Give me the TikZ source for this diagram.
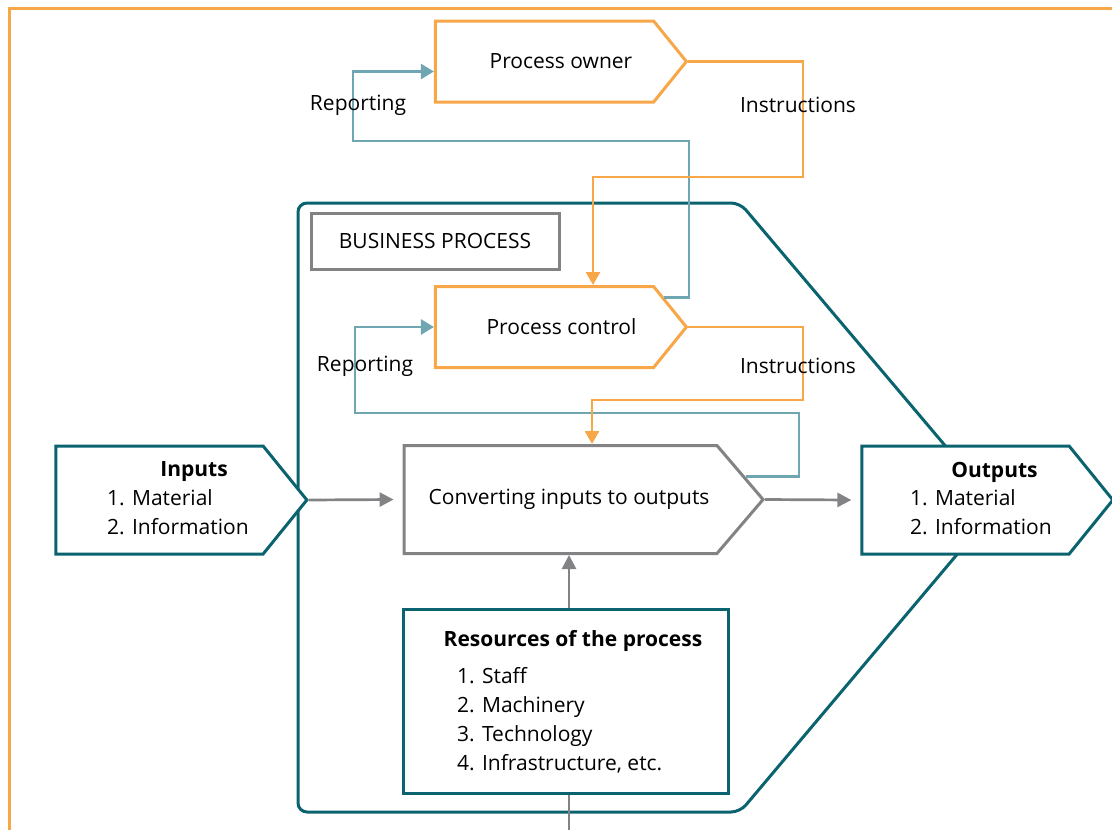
\documentclass[tikz,border=0pt]{standalone}
\usepackage{fontspec}
\setmainfont{Open Sans}
\usetikzlibrary{shapes.symbols,arrows.meta}

\definecolor{ctrlorange}{RGB}{247,166,72}
\definecolor{procteal}{RGB}{10,99,111}
\definecolor{reportteal}{RGB}{112,165,178}
\definecolor{flowgrey}{RGB}{131,131,134}

\tikzset{
  signalbox/.style={signal, signal to=east, signal pointer angle=102,
    fill=white, line width=3pt, inner sep=0pt},
  ctrlbox/.style={signalbox, draw=ctrlorange, minimum width=251pt, minimum height=81pt},
  title/.style={font=\fontsize{21}{29}\selectfont\bfseries},
  itemlist/.style={align=left, inner sep=0pt, anchor=west},
  report/.style={draw=reportteal, line width=2.7pt, -{Triangle[length=13pt,width=15pt]}},
  instr/.style={draw=ctrlorange, line width=2.7pt, -{Triangle[length=13pt,width=14pt]}},
  flow/.style={draw=flowgrey, line width=2.7pt, -{Triangle[length=14pt,width=14pt]}}
}

\begin{document}
\begin{tikzpicture}[x=1pt,y=-1pt,font=\fontsize{21}{29}\selectfont]
\useasboundingbox (0,0) rectangle (1112,830);
  % Outer frame
  \draw[ctrlorange,line width=3pt] (9,830) |- (1112,8);
  % Business process outline
  \draw[procteal,line width=3pt,rounded corners=9pt]
        (740,203) -- (298,203) -- (298,812) -- (740,812) -- (997,507) -- cycle;
  \node[draw=flowgrey,line width=3pt,minimum width=248pt,minimum height=56pt,inner sep=0pt]
        (bp) at (435,241) {BUSINESS PROCESS};

  % Draw boxes
  \node[ctrlbox] (owner)   at (544.5,61.5) {\hspace*{33pt}Process owner};
  \node[ctrlbox] (control) at (544.5,327)  {\hspace*{34pt}Process control};
  \node[signalbox,draw=flowgrey,minimum width=359pt,minimum height=108pt,signal pointer angle=99]
        (convert) at (560.5,499.5) {\hspace*{17pt}Converting inputs to outputs};
  \node[signalbox,draw=procteal,minimum width=251pt,minimum height=108pt]
        (inputs)  at (159.5,500) {};
  \node[signalbox,draw=procteal,minimum width=251pt,minimum height=108pt]
        (outputs) at (965.5,500) {};
  \node[draw=procteal,line width=3pt,fill=white,minimum width=325pt,minimum height=184pt]
        (res) at (565.5,701) {};

  % Box texts
  \node[title] (intitle)  at (194,472)   {Inputs};
  \node[itemlist] (inlist)  at (107,512)   {1. Material\\2. Information};
  \node[title] (outtitle) at (994.5,472) {Outputs};
  \node[itemlist] (outlist) at (910,512)   {1. Material\\2. Information};
  \node[title] (restitle) at (573,641)   {Resources of the process};
  \node[itemlist] (reslist) at (457,720.5)
        {1. Staff\\2. Machinery\\3. Technology\\4. Infrastructure, etc.};

  % Reporting and instructions
  \coordinate (rep1a) at (689,141);
  \coordinate (rep1b) at (353,141);
  \coordinate (ins1a) at (803,177);
  \coordinate (rep2a) at (799,413);
  \coordinate (rep2b) at (355,413);
  \coordinate (ins2a) at (803,400);
  \draw[report] (control.14) -| (rep1a) -- (rep1b) |- ([yshift=-10pt]owner.west);
  \draw[instr]  (owner.east) -| (ins1a) -| ([xshift=48.5pt]control.north);
  \draw[report] (convert.7) -| (rep2a) -- (rep2b) |- (control.west);
  \draw[instr]  (control.east) -| (ins2a) -| ([xshift=31.5pt]convert.north);

  % Flow of the process
  \draw[flow] (inputs.east) -- ([xshift=-9pt]convert.west);
  \draw[flow] (convert.east) -- ([xshift=-9pt]outputs.west);
  \draw[flow] ([xshift=3.5pt]res.north) -- ([xshift=3.5pt]res.north |- convert.south);
  \coordinate (resfoot) at (569,830);
  \draw[flowgrey,line width=2.7pt] ([xshift=3.5pt]res.south) -- (resfoot);

  % Labels
  \node (replab1) at (358,105) {Reporting};
  \node (inslab1) at (798,105) {Instructions};
  \node (replab2) at (365,366) {Reporting};
  \node (inslab2) at (798,366) {Instructions};
\end{tikzpicture}
\end{document}
